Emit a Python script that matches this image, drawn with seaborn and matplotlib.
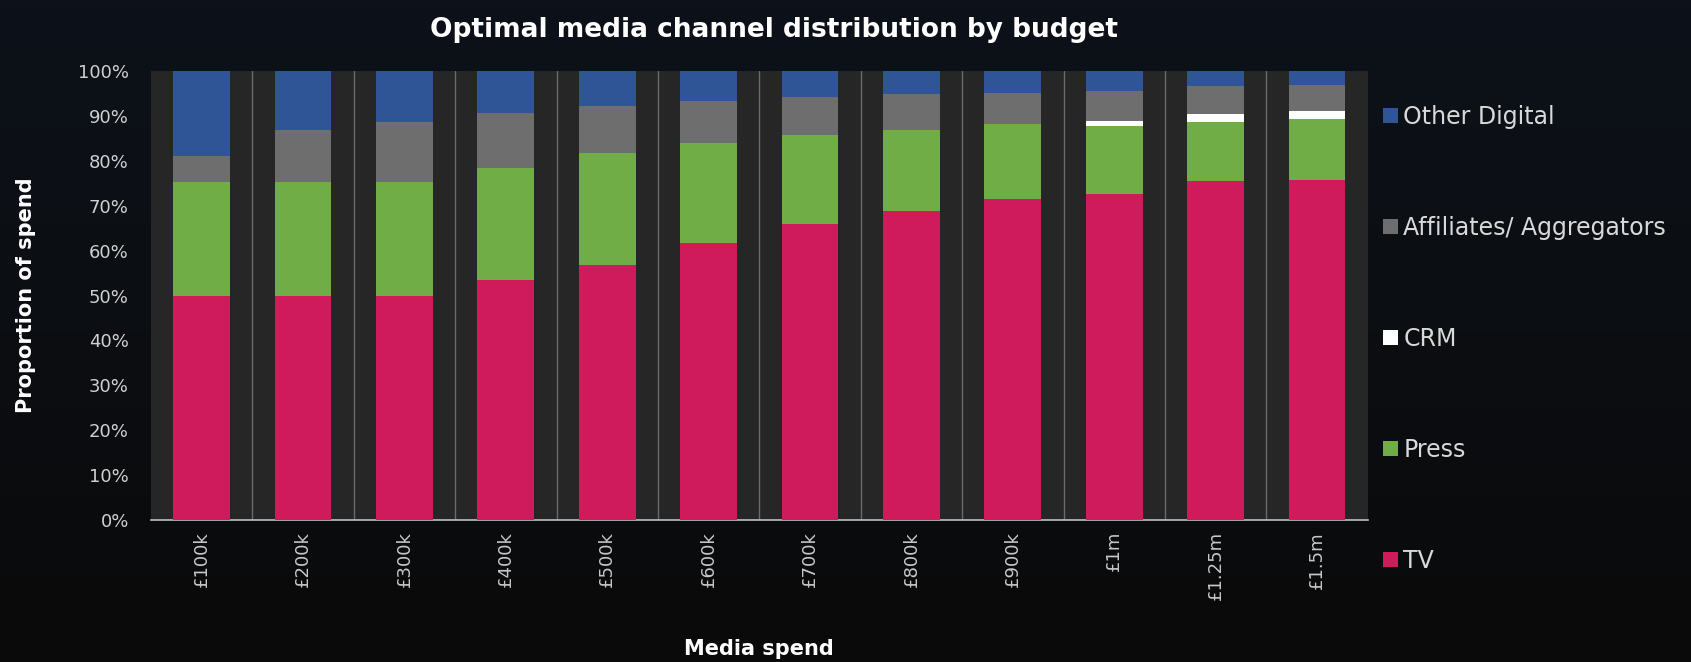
import numpy as np
import pandas as pd
import matplotlib
matplotlib.use("Agg")
import matplotlib.pyplot as plt
import seaborn as sns
from matplotlib.patches import Patch

categories = ["£100k", "£200k", "£300k", "£400k", "£500k", "£600k",
              "£700k", "£800k", "£900k", "£1m", "£1.25m", "£1.5m"]
tv = [50.0, 50.0, 50.0, 53.5, 56.8, 61.8, 65.9, 68.9, 71.4, 72.6, 75.5, 75.7]
press = [25.3, 25.3, 25.3, 25.0, 25.0, 22.2, 19.8, 18.0, 16.8, 15.1, 13.2, 13.6]
crm = [0, 0, 0, 0, 0, 0, 0, 0, 0, 1.2, 1.7, 1.9]
affiliates = [5.8, 11.6, 13.4, 12.1, 10.5, 9.4, 8.6, 8.0, 7.0, 6.6, 6.2, 5.7]
other_digital = [18.9, 13.1, 11.3, 9.4, 7.7, 6.6, 5.7, 5.1, 4.8, 4.5, 3.4, 3.1]

series_names = ["TV", "Press", "CRM", "Affiliates/ Aggregators", "Other Digital"]
series_vals = [tv, press, crm, affiliates, other_digital]
colors = ["#cf1b5c", "#70ad47", "#ffffff", "#6e6e6e", "#2f5597"]

sns.set_theme(style="dark")
plt.rcParams['font.family'] = ['DejaVu Sans']

fig = plt.figure(figsize=(16.91, 6.62), dpi=100)
# background gradient
bg = fig.add_axes([0, 0, 1, 1], zorder=-10)
grad = np.zeros((100, 100, 3))
top = np.array([0x0d, 0x12, 0x1a]) / 255
bot = np.array([0x0a, 0x0a, 0x0a]) / 255
for i in range(100):
    t = i / 99
    grad[i, :, :] = top * (1 - t) + bot * t
bg.imshow(grad, aspect="auto", extent=[0, 1, 0, 1])
bg.axis("off")

ax = fig.add_axes([0.0893, 0.2145, 0.7195, 0.6782])
ax.set_facecolor("#262626")

cum = np.zeros(len(categories))
cums = []
for v in series_vals:
    cum = cum + np.array(v)
    cums.append(cum.copy())

# draw from top cumulative downwards so lower layers overlay
for name, c, col in reversed(list(zip(series_names, cums, colors))):
    d = pd.DataFrame({"cat": categories, "val": c})
    sns.barplot(data=d, x="cat", y="val", color=col, width=0.56,
                saturation=1, ax=ax, linewidth=0, zorder=3)

ax.set_ylim(0, 100)
ax.set_xlim(-0.5, len(categories) - 0.5)
for i in range(len(categories) - 1):
    ax.axvline(i + 0.5, color="#6a6a6a", lw=1.0, zorder=2)

ax.set_yticks(np.arange(0, 101, 10))
ax.set_yticklabels([f"{t}%" for t in range(0, 101, 10)], color="#d0d0d0", fontsize=13)
ax.set_xticks(range(len(categories)))
ax.set_xticklabels(categories, rotation=90, color="#c8c8c8", fontsize=13,
                   va="top", ha="center")
ax.tick_params(axis="y", length=0, pad=16)
ax.tick_params(axis="x", length=0, pad=8)
for s in ["top", "right", "left"]:
    ax.spines[s].set_visible(False)
ax.spines["bottom"].set_color("#bfbfbf")
ax.spines["bottom"].set_linewidth(1.2)
ax.grid(False)

ax.set_xlabel("Media spend", color="white", fontsize=15, fontweight="bold", labelpad=28)
ax.set_ylabel("Proportion of spend", color="white", fontsize=15, fontweight="bold", labelpad=30)

fig.text(0.458, 0.955, "Optimal media channel distribution by budget", color="white",
         fontsize=19, fontweight="bold", ha="center", va="center")

handles = [Patch(facecolor=col, edgecolor="none", label=n)
           for n, col in zip(series_names, colors)][::-1]
leg = fig.legend(handles=handles, loc="upper left", bbox_to_anchor=(0.8055, 0.874),
                 frameon=False, fontsize=17, labelspacing=3.69,
                 handlelength=0.6, handleheight=0.6, handletextpad=0.25,
                 labelcolor="#d9d9d9")

fig.savefig("out.png", dpi=100, facecolor="#0b0e13")
